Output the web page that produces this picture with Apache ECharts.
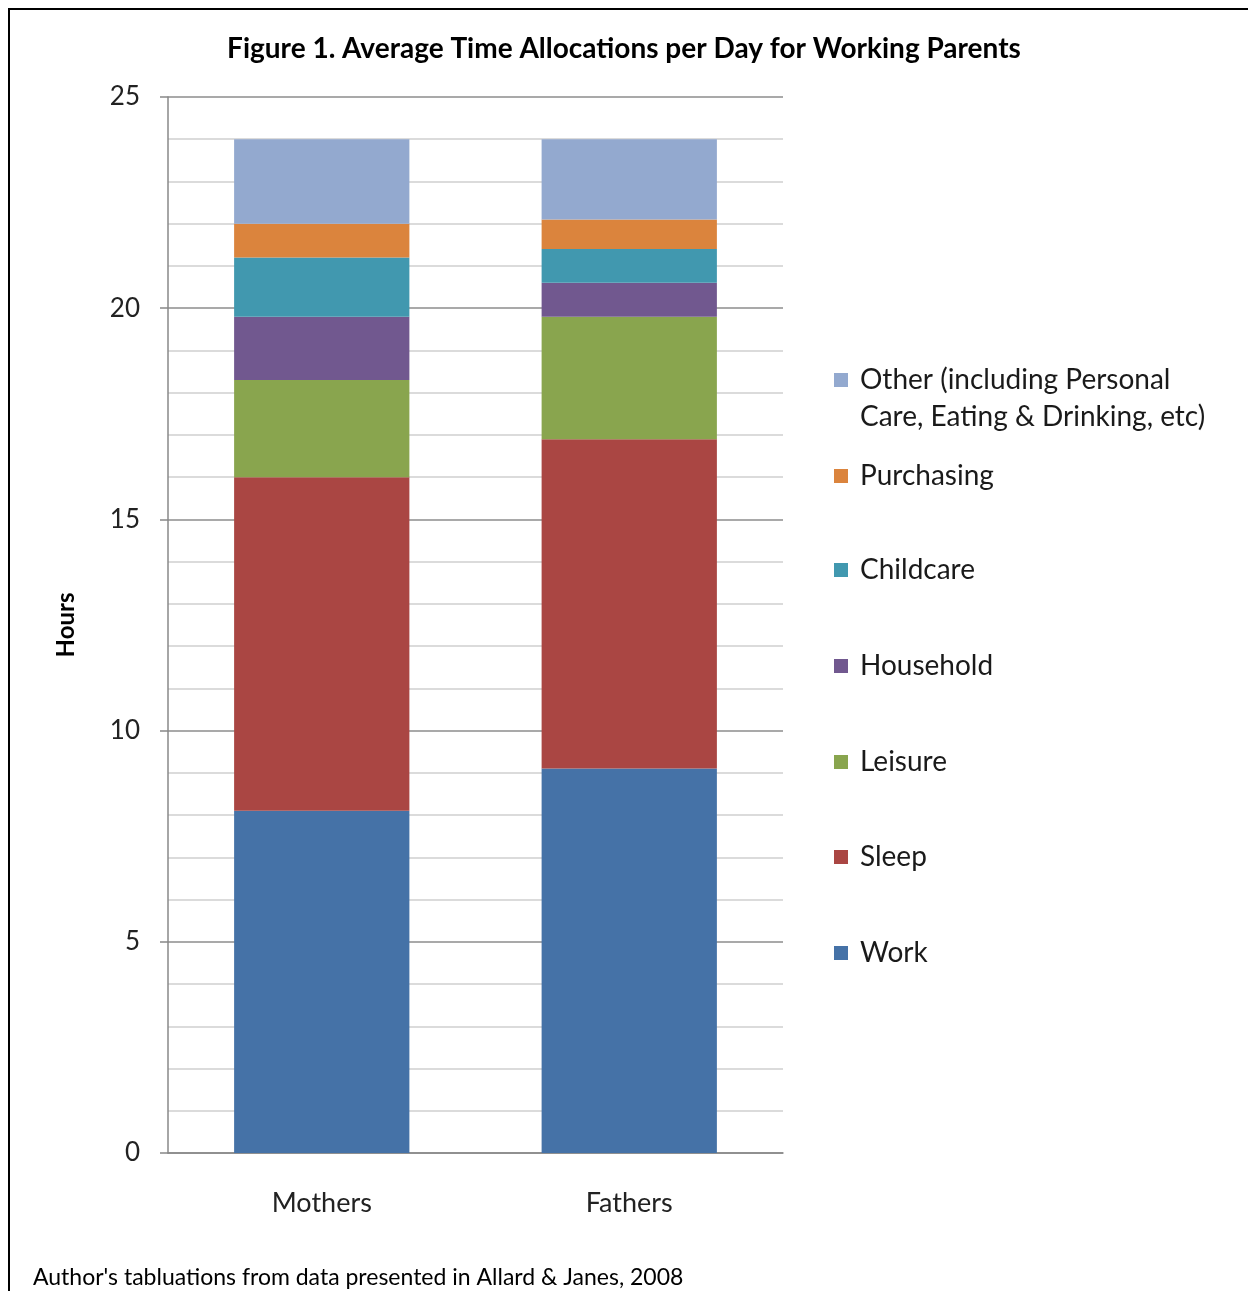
<!DOCTYPE html>
<html>
<head>
<meta charset="utf-8">
<script src="https://cdn.jsdelivr.net/npm/echarts@6/dist/echarts.min.js"></script>
<style>
  body { margin: 0; background: #fff; }
  #wrap { position: relative; width: 1248px; height: 1291px; }
  #chart { width: 1248px; height: 1291px; }
  #frame {
    position: absolute; left: 8px; top: 8px; right: 0; bottom: 0;
    border-left: 2px solid #000; border-top: 2px solid #000;
    pointer-events: none;
  }
</style>
</head>
<body>
<div id="wrap">
  <div id="chart"></div>
  <div id="frame"></div>
</div>
<script>
// groups on the x axis
const groups = ["Mothers", "Fathers"];

// hours per day (bottom to top of each stack)
const work = [8.1, 9.1];
const sleep = [7.9, 7.8];
const leisure = [2.3, 2.9];
const household = [1.5, 0.8];
const childcare = [1.4, 0.8];
const purchasing = [0.8, 0.7];
const other = [2.0, 1.9];

const seriesNames = [
  "Work", "Sleep", "Leisure", "Household", "Childcare", "Purchasing",
  "Other (including Personal Care, Eating & Drinking, etc)"
];
const seriesData = [work, sleep, leisure, household, childcare, purchasing, other];
const colors = ["#4572a7", "#aa4643", "#89a54e", "#71588f", "#4198af", "#db843d", "#93a9cf"];

const FONT = "Lato";

const chart = echarts.init(document.getElementById("chart"));

// one legend per entry so each can sit where the original puts it
const legendTops = [952, 856, 761, 665, 569, 475, 379]; // icon centre y, same order as seriesNames
const legends = seriesNames.map((name, i) => {
  const twoLines = i === seriesNames.length - 1;
  return {
    data: [name],
    left: 829,
    top: twoLines ? legendTops[i] - 59.5 : legendTops[i] - 19,
    icon: "rect",
    itemWidth: 14,
    itemHeight: 14,
    selectedMode: false,
    // leading empty line keeps the icon level with the first text line
    formatter: twoLines ? () => "\nOther (including Personal\nCare, Eating & Drinking, etc)" : "{name}",
    textStyle: {
      fontFamily: FONT,
      fontSize: 28,
      color: "#1a1a1a",
      lineHeight: twoLines ? 37 : 30,
      padding: [0, 0, 0, 7]
    }
  };
});

const option = {
  animation: false,
  backgroundColor: "#fff",
  color: colors,
  title: [
    {
      text: "Figure 1. Average Time Allocations per Day for Working Parents",
      left: "center",
      top: 30,
      textStyle: { fontFamily: FONT, fontSize: 28, fontWeight: "bold", color: "#000" }
    },
    {
      text: "Author's tabluations from data presented in Allard & Janes, 2008",
      left: 28,
      top: 1261,
      textStyle: { fontFamily: FONT, fontSize: 23, fontWeight: "normal", color: "#000" }
    }
  ],
  legend: legends,
  grid: { left: 168, right: 465, top: 97, bottom: 138 },
  xAxis: {
    type: "category",
    data: groups,
    axisTick: { show: false },
    axisLine: { lineStyle: { color: "#888", width: 1.5 } },
    axisLabel: { fontFamily: FONT, fontSize: 27, color: "#222", margin: 37 }
  },
  yAxis: {
    type: "value",
    min: 0,
    max: 25,
    interval: 5,
    name: "Hours",
    nameLocation: "middle",
    nameRotate: 90,
    nameGap: 90,
    nameTextStyle: { fontFamily: FONT, fontSize: 24, fontWeight: "bold", color: "#000" },
    axisLine: { show: true, lineStyle: { color: "#888", width: 1.5 } },
    axisTick: { show: true, length: 8, lineStyle: { color: "#888", width: 1.5 } },
    axisLabel: { fontFamily: FONT, fontSize: 26, color: "#222", margin: 28 },
    splitLine: { lineStyle: { color: "#8c8c8c", width: 1.5 } },
    minorTick: { show: false, splitNumber: 5 },
    minorSplitLine: { show: true, lineStyle: { color: "#cfcfcf", width: 1.5 } }
  },
  series: seriesNames.map((name, i) => ({
    name: name,
    type: "bar",
    stack: "total",
    barWidth: "57%",
    data: seriesData[i]
  }))
};

chart.setOption(option);
</script>
</body>
</html>
